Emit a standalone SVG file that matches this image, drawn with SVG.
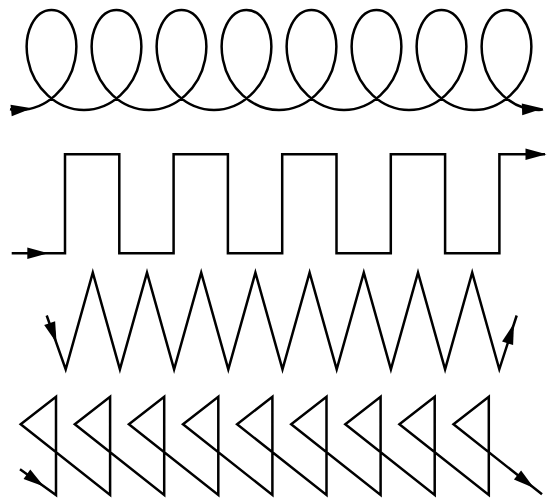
<svg xmlns="http://www.w3.org/2000/svg" xmlns:xlink="http://www.w3.org/1999/xlink" width="547" height="499" viewBox="0 0 547 499">
  <style>
    .wire { fill: none; stroke: #000; stroke-width: 2.5; stroke-linejoin: miter; stroke-linecap: butt; }
    .head { fill: #000; stroke: none; }
  </style>
  <defs>
    <!-- arrowhead, tip at the origin, pointing along +x -->
    <path id="ah" class="head" d="M0,0 L-21,-5.8 L-21,5.8 Z"/>
  </defs>
  <rect width="547" height="499" fill="#fff"/>

  <!-- looped (trochoid) line -->
  <g id="loops">
    <path class="wire" d="M10,109.2 Q14.5,110 19,110
      c 27.37,0 50.58,-22.4 56,-50 c 5.42,-27.6 -6.96,-50 -23.5,-50 c -16.54,0 -28.92,22.4 -23.5,50 c 5.42,27.6 28.63,50 56,50
      c 27.37,0 50.58,-22.4 56,-50 c 5.42,-27.6 -6.96,-50 -23.5,-50 c -16.54,0 -28.92,22.4 -23.5,50 c 5.42,27.6 28.63,50 56,50
      c 27.37,0 50.58,-22.4 56,-50 c 5.42,-27.6 -6.96,-50 -23.5,-50 c -16.54,0 -28.92,22.4 -23.5,50 c 5.42,27.6 28.63,50 56,50
      c 27.37,0 50.58,-22.4 56,-50 c 5.42,-27.6 -6.96,-50 -23.5,-50 c -16.54,0 -28.92,22.4 -23.5,50 c 5.42,27.6 28.63,50 56,50
      c 27.37,0 50.58,-22.4 56,-50 c 5.42,-27.6 -6.96,-50 -23.5,-50 c -16.54,0 -28.92,22.4 -23.5,50 c 5.42,27.6 28.63,50 56,50
      c 27.37,0 50.58,-22.4 56,-50 c 5.42,-27.6 -6.96,-50 -23.5,-50 c -16.54,0 -28.92,22.4 -23.5,50 c 5.42,27.6 28.63,50 56,50
      c 27.37,0 50.58,-22.4 56,-50 c 5.42,-27.6 -6.96,-50 -23.5,-50 c -16.54,0 -28.92,22.4 -23.5,50 c 5.42,27.6 28.63,50 56,50
      c 27.37,0 50.58,-22.4 56,-50 c 5.42,-27.6 -6.96,-50 -23.5,-50 c -16.54,0 -28.92,22.4 -23.5,50 c 5.42,27.6 28.63,50 56,50
      q 2,0 4,-0.6"/>
    <use xlink:href="#ah" href="#ah" transform="translate(32,108.3) rotate(-6)"/>
    <use xlink:href="#ah" href="#ah" transform="translate(543,108.6) rotate(-2)"/>
  </g>

  <!-- square wave -->
  <g id="square">
    <path class="wire" d="M11.7,253.2 H65 V154.2 H119.3 V253.2 H173.6 V154.2 H227.9 V253.2 H282.2 V154.2 H336.5 V253.2 H390.8 V154.2 H445.1 V253.2 H499.4 V154.2 H545"/>
    <use xlink:href="#ah" href="#ah" transform="translate(48.3,253.2)"/>
    <use xlink:href="#ah" href="#ah" transform="translate(546.5,154.2)"/>
  </g>

  <!-- zigzag -->
  <g id="zigzag">
    <path class="wire" d="M46.7,315.5 L65.7,369.3 L92.8,272.7 L119.9,369.3 L147,272.7 L174.1,369.3 L201.2,272.7 L228.3,369.3 L255.4,272.7 L282.5,369.3 L309.6,272.7 L336.7,369.3 L363.8,272.7 L390.9,369.3 L418,272.7 L445.1,369.3 L472.2,272.7 L499.3,369.3 L516.7,315.5"/>
    <use xlink:href="#ah" href="#ah" transform="translate(56.6,343) rotate(70.7)"/>
    <use xlink:href="#ah" href="#ah" transform="translate(514,323.3) rotate(-72.2)"/>
  </g>

  <!-- row of triangles -->
  <g id="triangles">
    <path class="wire" d="M20,469.3 L56,495 V396.7 L20.7,424.3 L110.1,495 V396.7 L74.8,424.3 L164.2,495 V396.7 L128.9,424.3 L218.3,495 V396.7 L183,424.3 L272.4,495 V396.7 L237.1,424.3 L326.5,495 V396.7 L291.2,424.3 L380.6,495 V396.7 L345.3,424.3 L434.7,495 V396.7 L399.4,424.3 L488.8,495 V396.7 L453.5,424.3 L542,494.3"/>
    <use xlink:href="#ah" href="#ah" transform="translate(44,486.5) rotate(35.5)"/>
    <use xlink:href="#ah" href="#ah" transform="translate(534,488) rotate(38.3)"/>
  </g>
</svg>
